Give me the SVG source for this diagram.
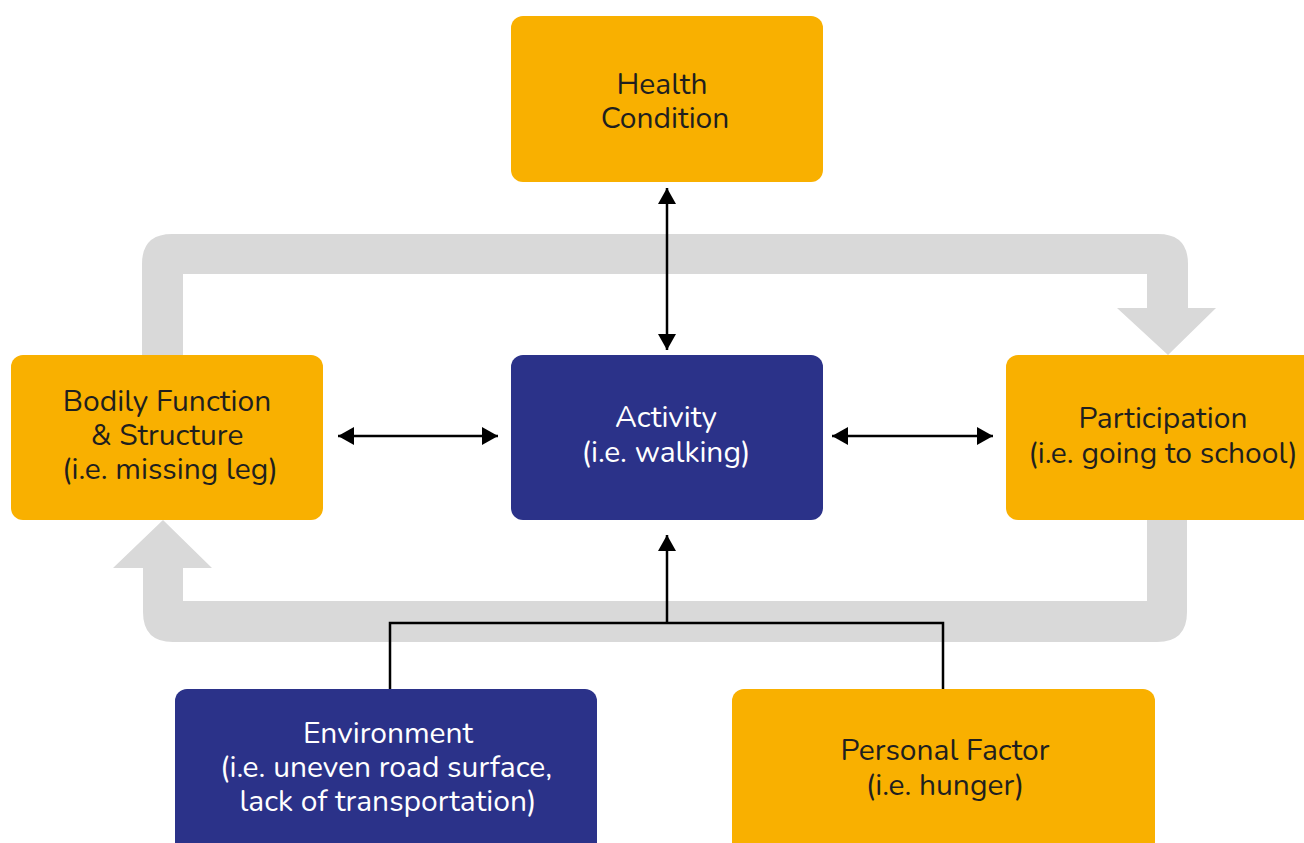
<svg xmlns="http://www.w3.org/2000/svg" width="1304" height="843" viewBox="0 0 1304 843">
<defs>
<style>
.y{fill:#f9b000}
.n{fill:#2b3289}
.t{font-family:"Nunito","Open Sans","Liberation Sans",sans-serif;font-size:30px;text-anchor:middle}
.dk{fill:#1f1f1f}
.wh{fill:#ffffff}
.ln{stroke:#000;stroke-width:2.5;fill:none}
.loop{fill:#d9d9d9}
</style>
<marker id="ah" viewBox="0 0 16 18" refX="16" refY="9" markerWidth="16" markerHeight="18" markerUnits="userSpaceOnUse" orient="auto-start-reverse">
<path d="M0,0 L16,9 L0,18 Z" fill="#000"/>
</marker>
</defs>
<g id="loop">
<path class="loop" d="M142,360 L142,264 Q142,234 172,234 L1158,234 Q1188,234 1188,264 L1188,308 L1216,308 L1168,355 L1117,308 L1147,308 L1147,274 L183,274 L183,360 Z"/>
<path class="loop" d="M1147,515 L1147,601 L183,601 L183,568 L212,568 L163,520 L113,568 L143,568 L143,612 Q143,642 173,642 L1157,642 Q1187,642 1187,612 L1187,515 Z"/>
</g>
<g id="health"><rect class="y" x="511" y="16" width="312" height="166" rx="12"/>
<text class="t dk" x="662" y="94">Health</text><text class="t dk" x="665" y="128">Condition</text></g>
<g id="bodily"><rect class="y" x="11" y="355" width="312" height="165" rx="12"/>
<text class="t dk" x="167" y="411">Bodily Function</text><text class="t dk" x="167" y="445">&amp; Structure</text><text class="t dk" x="170" y="479">(i.e. missing leg)</text></g>
<g id="activity"><rect class="n" x="511" y="355" width="312" height="165" rx="12"/>
<text class="t wh" x="666" y="427">Activity</text><text class="t wh" x="666" y="462">(i.e. walking)</text></g>
<g id="participation"><rect class="y" x="1006" y="355" width="312" height="165" rx="12"/>
<text class="t dk" x="1163" y="428">Participation</text><text class="t dk" x="1163" y="463">(i.e. going to school)</text></g>
<g id="environment"><rect class="n" x="175" y="689" width="422" height="170" rx="12"/>
<text class="t wh" x="388" y="743">Environment</text><text class="t wh" x="386" y="777">(i.e. uneven road surface,</text><text class="t wh" x="388" y="811">lack of transportation)</text></g>
<g id="personal"><rect class="y" x="732" y="689" width="423" height="170" rx="12"/>
<text class="t dk" x="945" y="760">Personal Factor</text><text class="t dk" x="945" y="795">(i.e. hunger)</text></g>
<g id="connectors">
<line class="ln" x1="667" y1="188" x2="667" y2="350" marker-start="url(#ah)" marker-end="url(#ah)"/>
<line class="ln" x1="338" y1="436" x2="498" y2="436" marker-start="url(#ah)" marker-end="url(#ah)"/>
<line class="ln" x1="832" y1="436" x2="993" y2="436" marker-start="url(#ah)" marker-end="url(#ah)"/>
<path class="ln" d="M390,689 L390,623 L943,623 L943,689"/>
<line class="ln" x1="667" y1="623" x2="667" y2="535" marker-end="url(#ah)"/>
</g>
</svg>
